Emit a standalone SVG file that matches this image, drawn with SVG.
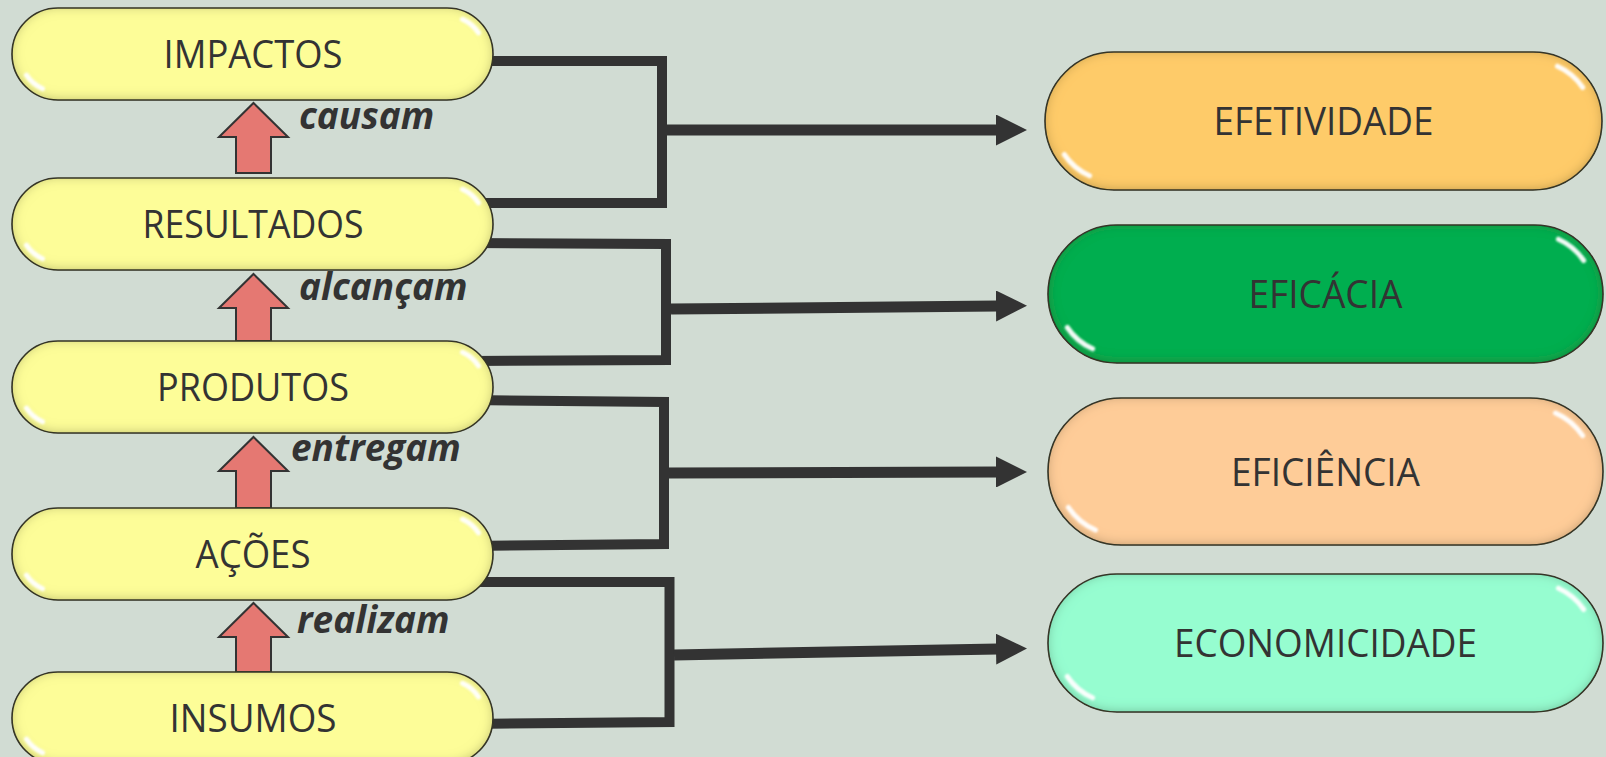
<svg xmlns="http://www.w3.org/2000/svg" width="1606" height="757" viewBox="0 0 1606 757">
  <defs>
    <style>
      .pill { stroke: #3a3a2e; stroke-width: 1.6; filter: url(#bevel); }
      .yellow { fill: #FDFD98; }
      .gloss { fill: none; stroke: #ffffff; stroke-width: 5; stroke-linecap: round; opacity: 0.95; filter: url(#soft); }
      .lbl { font-family: "Open Sans", "Liberation Sans", sans-serif; font-size: 38px; fill: #333333; text-anchor: middle; }
      .verb { font-family: "Open Sans", "Liberation Sans", sans-serif; font-size: 37px; font-weight: bold; font-style: italic; fill: #333333; }
      .up { fill: #E57872; stroke: #333333; stroke-width: 2; stroke-linejoin: miter; }
      .link { fill: none; stroke: #333333; stroke-width: 10; stroke-linejoin: miter; stroke-linecap: butt; }
      .feed { fill: none; stroke: #333333; stroke-width: 11; marker-end: url(#head); }
    </style>
    <!-- soft inner rim shading for the glossy capsules -->
    <filter id="bevel" x="-5%" y="-10%" width="110%" height="120%">
      <feGaussianBlur in="SourceAlpha" stdDeviation="6" result="blur"/>
      <feOffset in="blur" dx="0" dy="-1.5" result="blurUp"/>
      <feComposite in="SourceAlpha" in2="blurUp" operator="arithmetic" k2="1" k3="-1" result="rim"/>
      <feFlood flood-color="#2a2a10" flood-opacity="0.55"/>
      <feComposite in2="rim" operator="in" result="shade"/>
      <feMerge>
        <feMergeNode in="SourceGraphic"/>
        <feMergeNode in="shade"/>
      </feMerge>
    </filter>
    <filter id="soft" x="-50%" y="-50%" width="200%" height="200%">
      <feGaussianBlur stdDeviation="1.1"/>
    </filter>
    <marker id="head" markerUnits="userSpaceOnUse" viewBox="0 0 31 31" markerWidth="31" markerHeight="31" refX="2" refY="15.5" orient="auto">
      <path d="M0,0 L31,15.5 L0,31 Z" fill="#333333"/>
    </marker>
  </defs>

  <rect width="1606" height="757" fill="#D1DCD3"/>

  <!-- bracket connectors and arrows to the criteria -->
  <g id="connectors">
    <path class="link" d="M470,61 L662,61 L662,203 L470,203"/>
    <path class="feed" d="M667,130 L998,130"/>
    <path class="link" d="M470,243 L666,244 L666,360 L470,361"/>
    <path class="feed" d="M671,309 L998,306"/>
    <path class="link" d="M470,400 L664,402 L664,544 L470,546"/>
    <path class="feed" d="M669,473 L998,472"/>
    <path class="link" d="M470,582 L669.5,582 L669.5,722 L470,724"/>
    <path class="feed" d="M674,655 L998,649"/>
  </g>

  <!-- upward block arrows between the chain levels -->
  <g id="step-causam">
    <path class="up" d="M253.5,103 L288,137 L271,137 L271,173 L236,173 L236,137 L219,137 Z"/>
    <text class="verb" x="299" y="129">causam</text>
  </g>
  <g id="step-alcancam">
    <path class="up" d="M253.5,274 L288,308 L271,308 L271,341 L236,341 L236,308 L219,308 Z"/>
    <text class="verb" x="299" y="300">alcançam</text>
  </g>
  <g id="step-entregam">
    <path class="up" d="M253.5,437 L288,471 L271,471 L271,508 L236,508 L236,471 L219,471 Z"/>
    <text class="verb" x="291" y="461">entregam</text>
  </g>
  <g id="step-realizam">
    <path class="up" d="M253.5,603 L288,637 L271,637 L271,672 L236,672 L236,637 L219,637 Z"/>
    <text class="verb" x="297" y="633">realizam</text>
  </g>

  <!-- results chain -->
  <g id="impactos">
    <rect class="pill yellow" x="12" y="8" width="481" height="92" rx="46"/>
    <path class="gloss" d="M26.5,75.2 A38,38 0 0 0 42.5,88.7"/>
    <path class="gloss" d="M462.5,19.3 A38,38 0 0 1 478.5,32.8"/>
    <text class="lbl" x="253" y="68" textLength="179" lengthAdjust="spacingAndGlyphs">IMPACTOS</text>
  </g>
  <g id="resultados">
    <rect class="pill yellow" x="12" y="178" width="481" height="92" rx="46"/>
    <path class="gloss" d="M26.5,245.2 A38,38 0 0 0 42.5,258.7"/>
    <path class="gloss" d="M462.5,189.3 A38,38 0 0 1 478.5,202.8"/>
    <text class="lbl" x="253" y="238" textLength="221" lengthAdjust="spacingAndGlyphs">RESULTADOS</text>
  </g>
  <g id="produtos">
    <rect class="pill yellow" x="12" y="341" width="481" height="92" rx="46"/>
    <path class="gloss" d="M26.5,408.2 A38,38 0 0 0 42.5,421.7"/>
    <path class="gloss" d="M462.5,352.3 A38,38 0 0 1 478.5,365.8"/>
    <text class="lbl" x="253" y="401" textLength="192" lengthAdjust="spacingAndGlyphs">PRODUTOS</text>
  </g>
  <g id="acoes">
    <rect class="pill yellow" x="12" y="508" width="481" height="92" rx="46"/>
    <path class="gloss" d="M26.5,575.2 A38,38 0 0 0 42.5,588.7"/>
    <path class="gloss" d="M462.5,519.3 A38,38 0 0 1 478.5,532.8"/>
    <text class="lbl" x="253" y="568" textLength="115" lengthAdjust="spacingAndGlyphs">AÇÕES</text>
  </g>
  <g id="insumos">
    <rect class="pill yellow" x="12" y="672" width="481" height="92" rx="46"/>
    <path class="gloss" d="M26.5,739.2 A38,38 0 0 0 42.5,752.7"/>
    <path class="gloss" d="M462.5,683.3 A38,38 0 0 1 478.5,696.8"/>
    <text class="lbl" x="253" y="732" textLength="167" lengthAdjust="spacingAndGlyphs">INSUMOS</text>
  </g>

  <!-- evaluation criteria -->
  <g id="efetividade">
    <rect class="pill" fill="#FECB69" x="1045" y="52" width="557" height="138" rx="69"/>
    <path class="gloss" d="M1064.3,154.5 A60,60 0 0 0 1089.6,175.8"/>
    <path class="gloss" d="M1557.4,66.2 A60,60 0 0 1 1582.7,87.5"/>
    <text class="lbl" x="1323.5" y="135" textLength="220" lengthAdjust="spacingAndGlyphs">EFETIVIDADE</text>
  </g>
  <g id="eficacia">
    <rect class="pill" fill="#00AE50" x="1048" y="225" width="555" height="138" rx="69"/>
    <path class="gloss" d="M1067.3,327.5 A60,60 0 0 0 1092.6,348.8"/>
    <path class="gloss" d="M1558.4,239.2 A60,60 0 0 1 1583.7,260.5"/>
    <text class="lbl" x="1325.5" y="308" textLength="154" lengthAdjust="spacingAndGlyphs">EFICÁCIA</text>
  </g>
  <g id="eficiencia">
    <rect class="pill" fill="#FECC98" x="1048" y="398" width="555" height="147" rx="73.5"/>
    <path class="gloss" d="M1068.4,507.3 A64,64 0 0 0 1095.5,530"/>
    <path class="gloss" d="M1555.5,413 A64,64 0 0 1 1582.6,435.7"/>
    <text class="lbl" x="1325.5" y="486" textLength="189" lengthAdjust="spacingAndGlyphs">EFICIÊNCIA</text>
  </g>
  <g id="economicidade">
    <rect class="pill" fill="#96FDD0" x="1048" y="574" width="555" height="138" rx="69"/>
    <path class="gloss" d="M1067.3,676.5 A60,60 0 0 0 1092.6,697.8"/>
    <path class="gloss" d="M1558.4,588.2 A60,60 0 0 1 1583.7,609.5"/>
    <text class="lbl" x="1325.5" y="657" textLength="303" lengthAdjust="spacingAndGlyphs">ECONOMICIDADE</text>
  </g>
</svg>
